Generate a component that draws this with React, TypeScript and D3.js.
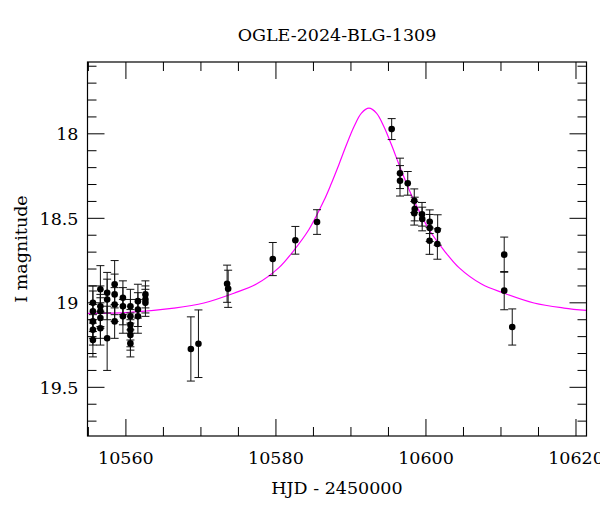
import React from "react";
import * as d3 from "d3";

// Observed photometry (HJD - 2450000, I magnitude, error)
const obsDays = [
  10555.6, 10555.6, 10555.6, 10555.6, 10555.6,
  10556.6, 10556.6, 10556.6, 10556.6, 10556.6,
  10557.5, 10557.5, 10557.5,
  10558.5, 10558.5, 10558.5, 10558.5,
  10559.6, 10559.6, 10559.6,
  10560.6, 10560.6, 10560.6, 10560.6, 10560.6, 10560.6,
  10561.6, 10561.6, 10561.6,
  10562.6, 10562.6, 10562.6,
  10568.66, 10569.67, 10573.49, 10573.63, 10579.58, 10582.59, 10585.48,
  10595.43, 10596.54, 10596.54, 10597.57, 10598.44, 10598.5, 10598.44,
  10599.47, 10599.5, 10600.5, 10600.5, 10600.48, 10601.56, 10601.52,
  10610.43, 10610.43, 10611.5,
];
const obsMags = [
  19.0, 19.05, 19.11, 19.16, 19.22,
  18.92, 19.02, 19.05, 19.09, 19.15,
  18.94, 18.98, 19.21,
  18.89, 18.95, 19.01, 19.11,
  18.97, 19.02, 19.08,
  19.02, 19.08, 19.13, 19.16, 19.19, 19.24,
  18.99, 19.04, 19.08,
  18.95, 18.98, 19.0,
  19.273, 19.242, 18.887, 18.917, 18.741, 18.63, 18.522,
  17.972, 18.234, 18.278, 18.293, 18.396, 18.445, 18.47,
  18.476, 18.504, 18.52, 18.557, 18.633, 18.569, 18.652,
  18.715, 18.928, 19.143,
];
const obsErrs = [
  0.1, 0.12, 0.1, 0.09, 0.1,
  0.14, 0.12, 0.1, 0.12, 0.1,
  0.12, 0.12, 0.19,
  0.14, 0.12, 0.1, 0.1,
  0.1, 0.11, 0.1,
  0.1, 0.1, 0.09, 0.1, 0.09, 0.08,
  0.1, 0.1, 0.1,
  0.08, 0.08, 0.08,
  0.19, 0.2, 0.11, 0.11, 0.098, 0.082, 0.073,
  0.062, 0.09, 0.09, 0.07, 0.07, 0.07, 0.07,
  0.07, 0.07, 0.07, 0.08, 0.08, 0.09, 0.09,
  0.104, 0.113, 0.107,
];

// Model light curve (magenta)
const modelDays = [
  10554.9, 10560.4, 10566.4, 10570.4, 10574.4, 10577.4, 10580.4, 10582.4,
  10584.4, 10586.4, 10587.4, 10588.4, 10589.4, 10590.4, 10591.4, 10592.4,
  10593.4, 10594.4, 10595.4, 10596.4, 10597.4, 10598.4, 10600.4, 10602.4,
  10604.4, 10607.4, 10610.4, 10614.4, 10618.4, 10621.4,
];
const modelMags = [
  19.063, 19.056, 19.031, 19.001, 18.943, 18.889, 18.792, 18.689,
  18.566, 18.395, 18.292, 18.181, 18.065, 17.958, 17.877, 17.848,
  17.877, 17.958, 18.065, 18.181, 18.292, 18.395, 18.566, 18.689,
  18.792, 18.889, 18.943, 19.001, 19.031, 19.045,
];

const xDomain = [10554.88, 10621.4];
const yDomain = [17.575, 19.788];
const xMajorTicks = [10560, 10580, 10600, 10620];
const yMajorTicks = [18, 18.5, 19, 19.5];
const titleText = "OGLE-2024-BLG-1309";
const xLabel = "HJD - 2450000";
const yLabel = "I magnitude";

const W = 600;
const H = 512;
const L = 87.5;
const R = 586.5;
const T = 62;
const B = 436;
const FONT = "'DejaVu Serif', serif";

export default function App() {
  const x = d3.scaleLinear().domain(xDomain).range([L, R]);
  const y = d3.scaleLinear().domain(yDomain).range([T, B]);

  const xMinor = d3.range(10555, 10621.5, 5).filter((v) => !xMajorTicks.includes(v));
  const yMinor = d3
    .range(17.6, 19.79, 0.1)
    .map((v) => Math.round(v * 10) / 10)
    .filter((v) => !yMajorTicks.includes(v));

  const line = d3
    .line<number>()
    .x((_, i) => x(modelDays[i]))
    .y((d) => y(d))
    .curve(d3.curveCatmullRom.alpha(0.5));

  const MAJ = 17;
  const MIN = 9;
  const cap = 4;

  return (
    <svg
      width={W}
      height={H}
      style={{ position: "absolute", left: 0, top: 0, background: "#fff" }}
    >
      <rect x={0} y={0} width={W} height={H} fill="#fff" />
      <defs>
        <clipPath id="plotclip">
          <rect x={L} y={T} width={R - L} height={B - T} />
        </clipPath>
      </defs>

      {/* model curve */}
      <path
        d={line(modelMags) || ""}
        fill="none"
        stroke="#ff00ff"
        strokeWidth={1.2}
        clipPath="url(#plotclip)"
      />

      {/* error bars */}
      <g stroke="#111" strokeWidth={1}>
        {obsDays.map((d, i) => {
          const cx = x(d);
          const y1 = y(obsMags[i] - obsErrs[i]);
          const y2 = y(obsMags[i] + obsErrs[i]);
          return (
            <g key={"e" + i}>
              <line x1={cx} x2={cx} y1={y1} y2={y2} />
              <line x1={cx - cap} x2={cx + cap} y1={y1} y2={y1} />
              <line x1={cx - cap} x2={cx + cap} y1={y2} y2={y2} />
            </g>
          );
        })}
      </g>

      {/* points */}
      <g fill="#000">
        {obsDays.map((d, i) => (
          <circle key={"p" + i} cx={x(d)} cy={y(obsMags[i])} r={3.3} />
        ))}
      </g>

      {/* frame */}
      <rect x={L} y={T} width={R - L} height={B - T} fill="none" stroke="#000" strokeWidth={1.2} />

      {/* ticks */}
      <g stroke="#000" strokeWidth={1}>
        {xMajorTicks.map((v) => (
          <g key={"xM" + v}>
            <line x1={x(v)} x2={x(v)} y1={B} y2={B - MAJ} />
            <line x1={x(v)} x2={x(v)} y1={T} y2={T + MAJ} />
          </g>
        ))}
        {xMinor.map((v) => (
          <g key={"xm" + v}>
            <line x1={x(v)} x2={x(v)} y1={B} y2={B - MIN} />
            <line x1={x(v)} x2={x(v)} y1={T} y2={T + MIN} />
          </g>
        ))}
        {yMajorTicks.map((v) => (
          <g key={"yM" + v}>
            <line x1={L} x2={L + MAJ} y1={y(v)} y2={y(v)} />
            <line x1={R} x2={R - MAJ} y1={y(v)} y2={y(v)} />
          </g>
        ))}
        {yMinor.map((v) => (
          <g key={"ym" + v}>
            <line x1={L} x2={L + MIN} y1={y(v)} y2={y(v)} />
            <line x1={R} x2={R - MIN} y1={y(v)} y2={y(v)} />
          </g>
        ))}
      </g>

      {/* tick labels */}
      <g fontFamily={FONT} fontSize={17.5} fill="#000">
        {xMajorTicks.map((v) => (
          <text key={"xl" + v} x={x(v)} y={B + 28} textAnchor="middle">
            {String(v)}
          </text>
        ))}
        {yMajorTicks.map((v) => (
          <text key={"yl" + v} x={L - 9} y={y(v)} dy="0.36em" textAnchor="end">
            {String(v)}
          </text>
        ))}
      </g>

      {/* titles */}
      <text x={(L + R) / 2} y={41} textAnchor="middle" fontFamily={FONT} fontSize={17.5} fill="#000">
        {titleText}
      </text>
      <text x={(L + R) / 2} y={494} textAnchor="middle" fontFamily={FONT} fontSize={17.5} fill="#000">
        {xLabel}
      </text>
      <text
        transform={`translate(27, ${(T + B) / 2}) rotate(-90)`}
        textAnchor="middle"
        fontFamily={FONT}
        fontSize={17.5}
        fill="#000"
      >
        {yLabel}
      </text>
    </svg>
  );
}
